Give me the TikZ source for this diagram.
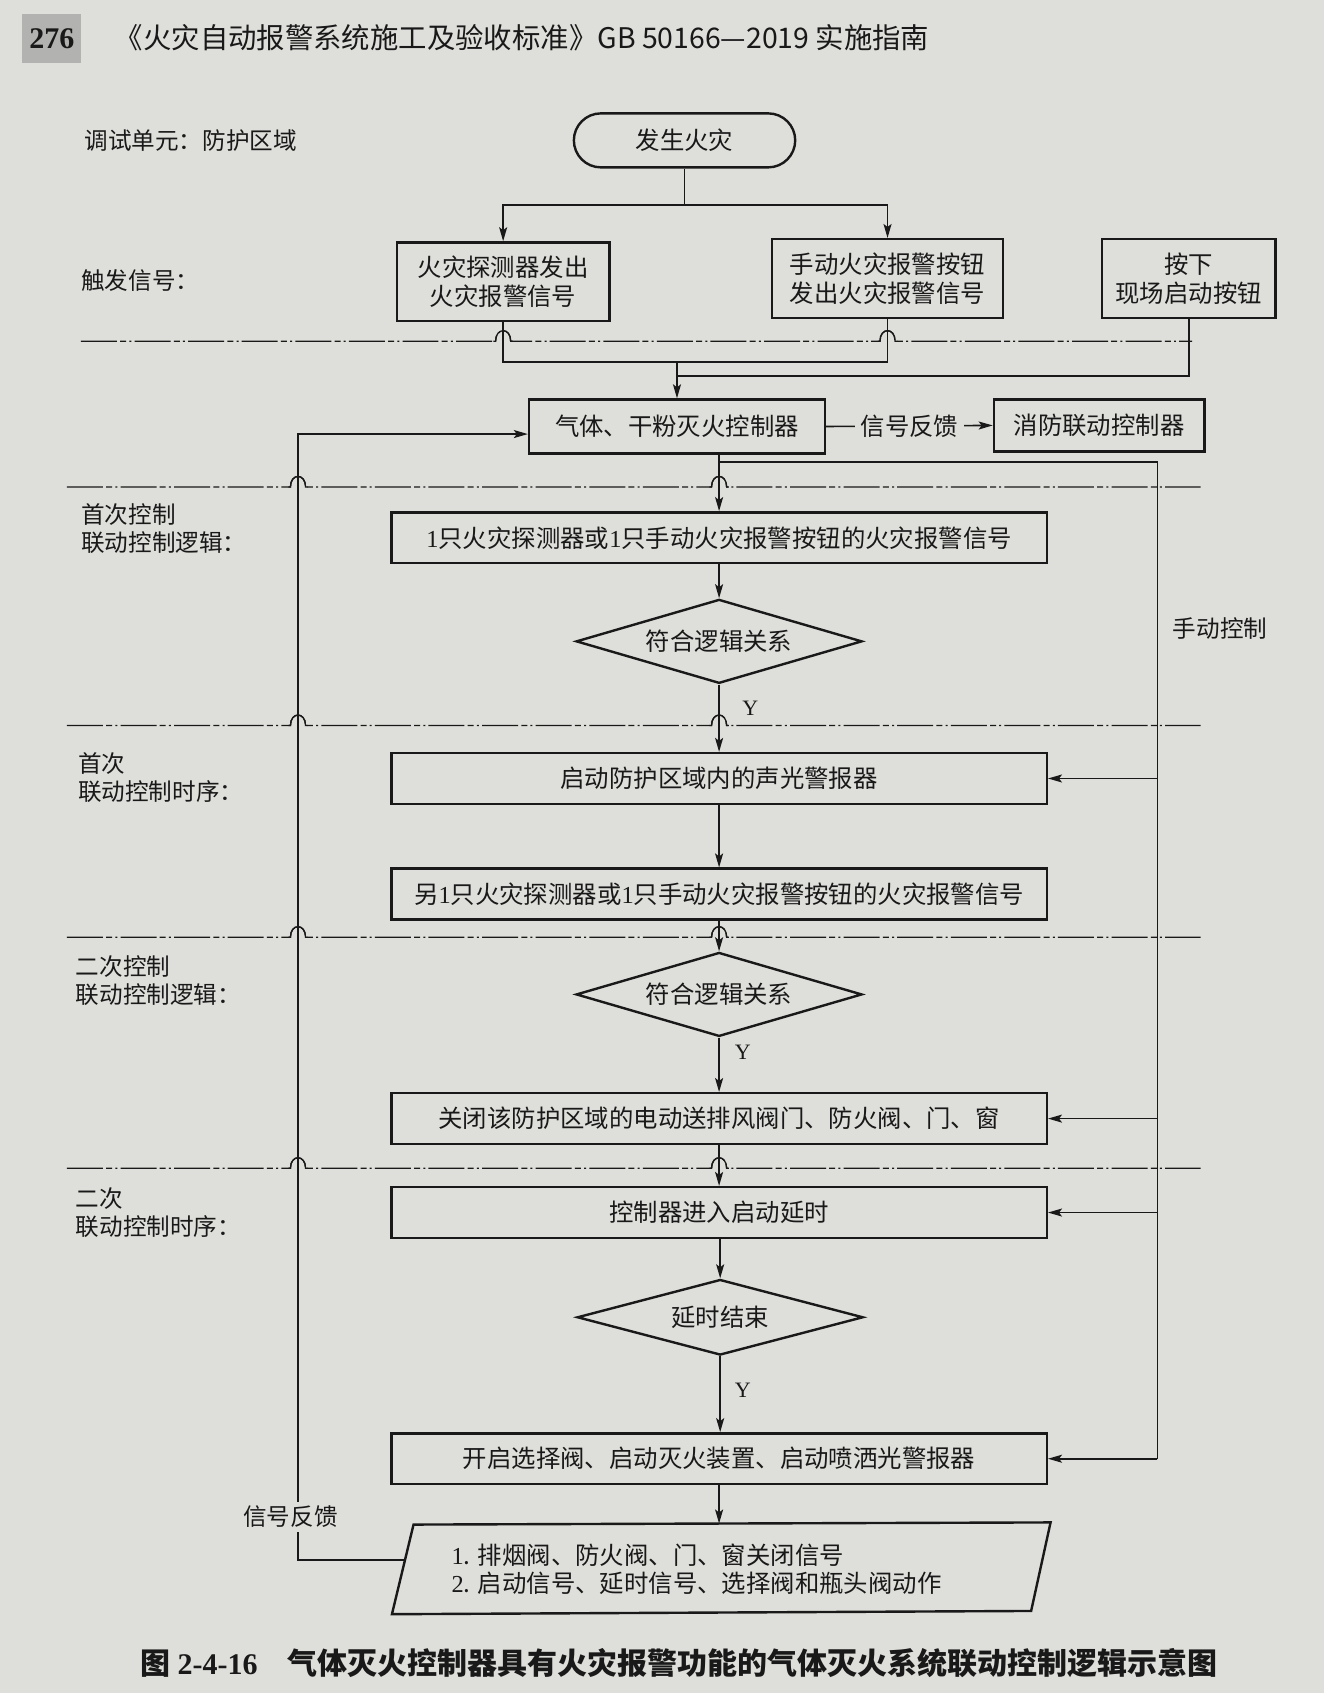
\documentclass[tikz,border=0pt]{standalone}
\usepackage{fontspec}
\setmainfont{Liberation Serif}
\newfontfamily\cjk{Noto Sans CJK SC}
\usetikzlibrary{shapes.geometric,arrows.meta}
\definecolor{bg}{RGB}{222,222,218}
\definecolor{tabgray}{RGB}{178,178,176}
\definecolor{ink}{RGB}{25,25,25}
\newcommand\dg[1]{{\rmfamily #1}}
\newcommand\sepline[5]{%
  \draw[sep] (#2,#1) -- (#4-7,#1) .. controls (#4-7,#1-13) and (#4+7,#1-13) .. (#4+7,#1)
    -- (#5-7,#1) .. controls (#5-7,#1-13) and (#5+7,#1-13) .. (#5+7,#1) -- (#3,#1);
  \draw[sepsolid] (#4-9,#1) -- (#4-7,#1) .. controls (#4-7,#1-13) and (#4+7,#1-13) .. (#4+7,#1) -- (#4+9,#1);
  \draw[sepsolid] (#5-9,#1) -- (#5-7,#1) .. controls (#5-7,#1-13) and (#5+7,#1-13) .. (#5+7,#1) -- (#5+9,#1);
}
\begin{document}
\begin{tikzpicture}[x=0.54pt,y=-0.54pt,
  every node/.style={text=ink},
  box/.style={draw=ink, line width=1.2pt, font=\cjk\fontsize{12.2}{14.6}\selectfont, align=center, inner sep=0pt},
  wide/.style={box, minimum width=327.8pt, minimum height=25.4pt},
  dia/.style={draw=ink, line width=1.2pt, diamond, aspect=3.4, inner sep=0pt, minimum width=143pt, minimum height=42pt, font=\cjk\fontsize{12.2}{14.6}\selectfont},
  conn/.style={draw=ink, line width=0.8pt},
  arr/.style={conn, -{Stealth[length=7pt,width=4pt,inset=1.5pt]}},
  sep/.style={draw=ink, line width=0.65pt, dash pattern=on 18pt off 1.6pt on 3pt off 1.6pt on 1pt off 1.6pt},
  sepsolid/.style={draw=ink, line width=0.65pt},
  lab/.style={font=\cjk\fontsize{11.8}{14}\selectfont, align=left, anchor=west, inner sep=0pt},
  ylab/.style={font=\rmfamily\fontsize{11}{13}\selectfont, inner sep=0pt}
]
\fill[bg] (0,0) rectangle (1226,1568);
\useasboundingbox (0,0) rectangle (1226,1568);

% header
\fill[tabgray] (20,13) rectangle (75,58);
\node[font=\rmfamily\bfseries\fontsize{15}{17}\selectfont] (pg) at (48,36) {276};
\node[anchor=west, inner sep=0pt, font=\cjk\fontsize{14.2}{16}\selectfont] (hdr) at (106,35) {《火灾自动报警系统施工及验收标准》GB 50166—2019 实施指南};

% left labels
\node[lab] (l0) at (78,130) {调试单元：防护区域};
\node[lab] (l1) at (75,260) {触发信号：};
\node[lab] (l2) at (75,490) {首次控制\\联动控制逻辑：};
\node[lab] (l3) at (72,720) {首次\\联动控制时序：};
\node[lab] (l4) at (70,908) {二次控制\\联动控制逻辑：};
\node[lab] (l5) at (70,1123) {二次\\联动控制时序：};

% nodes
\node[box, rounded corners=13.5pt, minimum width=110.7pt, minimum height=27pt] (fire) at (634,130) {发生火灾};
\node[box, minimum width=106.4pt, minimum height=39.4pt] (det) at (466,261) {火灾探测器发出\\火灾报警信号};
\node[box, minimum width=115.6pt, minimum height=39.4pt] (man) at (822,258) {手动火灾报警按钮\\发出火灾报警信号};
\node[box, minimum width=86.9pt, minimum height=39.4pt] (push) at (1101,258) {按下\\现场启动按钮};
\node[box, minimum width=148pt, minimum height=27pt] (ctrl) at (627,395) {气体、干粉灭火控制器};
\node[box, minimum width=105.3pt, minimum height=26pt] (link) at (1018,394) {消防联动控制器};

\node[wide] (b1) at (666,498) {\dg{1}只火灾探测器或\dg{1}只手动火灾报警按钮的火灾报警信号};
\node[dia] (d1) at (666,594) {符合逻辑关系};
\node[wide] (b2) at (666,721) {启动防护区域内的声光警报器};
\node[wide] (b3) at (666,828) {另\dg{1}只火灾探测器或\dg{1}只手动火灾报警按钮的火灾报警信号};
\node[dia] (d2) at (666,921) {符合逻辑关系};
\node[wide] (b4) at (666,1036) {关闭该防护区域的电动送排风阀门、防火阀、门、窗};
\node[wide] (b5) at (666,1123) {控制器进入启动延时};
\node[dia, minimum height=37.8pt] (d3) at (667,1220) {延时结束};
\node[wide] (b6) at (666,1351) {开启选择阀、启动灭火装置、启动喷洒光警报器};

\draw[draw=ink, line width=1.2pt] (383,1412) -- (973,1410) -- (955,1492) -- (363,1495) -- cycle;
\node[lab, font=\cjk\fontsize{12.2}{14}\selectfont] (para) at (418,1453) {\dg{1}. 排烟阀、防火阀、门、窗关闭信号\\\dg{2}. 启动信号、延时信号、选择阀和瓶头阀动作};
\coordinate (paratop) at (666,1411);
\coordinate (paraleft) at (375,1445);

% separators
\sepline{316}{75}{1104}{466}{822}
\sepline{451}{62}{1112}{276}{666}
\sepline{672}{62}{1112}{276}{666}
\sepline{868}{62}{1112}{276}{666}
\sepline{1082}{62}{1112}{276}{666}

% connectors top
\coordinate (j1) at (634,190);
\draw[conn] (fire.south) -- (j1);
\draw[arr] (j1) -| (det.north);
\draw[arr] (j1) -| (man.north);
\coordinate (j2) at (627,335);
\coordinate (j3) at (627,348);
\draw[conn] (det.south) |- (j2);
\draw[conn] (man.south) |- (j2);
\draw[conn] (push.south) |- (j3);
\draw[arr] (j2) -- (ctrl.north);
\draw[arr] (ctrl.east) -- node[fill=bg, inner sep=3pt, font=\cjk\fontsize{12.2}{14}\selectfont] (fbk1) {信号反馈} (link.west);

% feedback loop
\coordinate (fb) at (276,402);
\draw[arr] (paraleft) -| (fb) -- (ctrl.west |- fb);
\node[fill=bg, inner sep=2pt, font=\cjk\fontsize{11.8}{14}\selectfont] (fbk2) at (269,1405) {信号反馈};

% manual control
\coordinate (mcs) at (666,428);
\coordinate (mc) at (1072,428);
\draw[conn] (mcs) -- (mc) -- (mc |- b6.east);
\draw[arr] (mc |- b2.east) -- (b2.east);
\draw[arr] (mc |- b4.east) -- (b4.east);
\draw[arr] (mc |- b5.east) -- (b5.east);
\draw[arr] (mc |- b6.east) -- (b6.east);
\node[font=\cjk\fontsize{11.8}{14}\selectfont] (mlab) at (1130,582) {手动控制};

% main flow
\draw[arr] (ctrl.south -| b1.north) -- (b1.north);
\draw[arr] (b1) -- (d1);
\draw[arr] (d1) -- (b2);
\draw[arr] (b2) -- (b3);
\draw[arr] (b3) -- (d2);
\draw[arr] (d2) -- (b4);
\draw[arr] (b4) -- (b5);
\draw[arr] (b5.south -| d3.north) -- (d3.north);
\draw[arr] (d3.south) -- (d3.south |- b6.north);
\draw[arr] (b6.south) -- (paratop);
\node[ylab] (y1) at (695,656) {Y};
\node[ylab] (y2) at (688,975) {Y};
\node[ylab] (y3) at (688,1288) {Y};

% caption
\node[anchor=west, inner sep=0pt, font=\cjk\bfseries\fontsize{15}{17}\selectfont] (cap) at (130,1540) {图 \dg{2-4-16}\quad 气体灭火控制器具有火灾报警功能的气体灭火系统联动控制逻辑示意图};
\end{tikzpicture}
\end{document}
